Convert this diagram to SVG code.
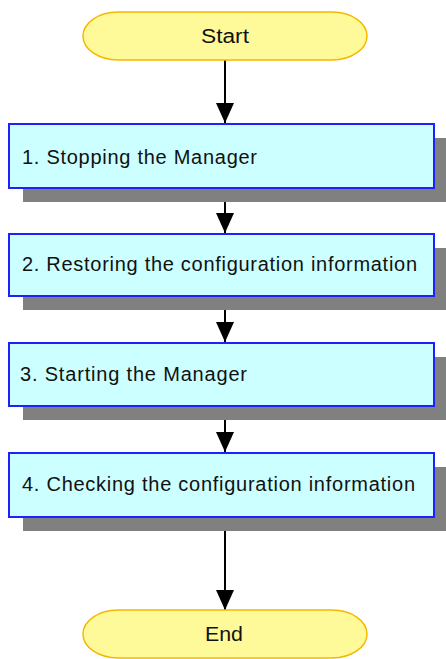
<svg xmlns="http://www.w3.org/2000/svg" width="446" height="659" viewBox="0 0 446 659">
<style>
.term{fill:#FFFA99;stroke:#F5B800;stroke-width:1.5}
.box{fill:#CCFFFF;stroke:#2020FF;stroke-width:2}
.shadow{fill:#808080}
.t{font-family:"Liberation Sans",Arial,sans-serif;font-size:20px;fill:#111}
.line{stroke:#000;stroke-width:2;fill:none}
</style>
<defs>
<marker id="arr" markerWidth="20" markerHeight="18" refX="20" refY="9" orient="auto" markerUnits="userSpaceOnUse">
<path d="M0,0 L20,9 L0,18 Z" fill="#000"/>
</marker>
</defs>
<g id="connectors">
<line class="line" x1="225" y1="60" x2="225" y2="123" marker-end="url(#arr)"/>
<line class="line" x1="225" y1="188" x2="225" y2="233" marker-end="url(#arr)"/>
<line class="line" x1="225" y1="296" x2="225" y2="342" marker-end="url(#arr)"/>
<line class="line" x1="225" y1="406" x2="225" y2="452" marker-end="url(#arr)"/>
<line class="line" x1="225" y1="517" x2="225" y2="610" marker-end="url(#arr)"/>
</g>
<g id="start">
<path class="term" d="M118,12 L332,12 A35,24 0 0 1 332,60 L118,60 A35,24 0 0 1 118,12 Z"/>
<text class="t" x="201" y="43" textLength="48" lengthAdjust="spacingAndGlyphs">Start</text>
</g>
<g id="step1">
<rect class="shadow" x="23" y="138" width="425" height="64"/>
<rect class="box" x="9" y="124" width="425" height="64"/>
<text class="t" x="22" y="164" textLength="235">1. Stopping the Manager</text>
</g>
<g id="step2">
<rect class="shadow" x="23" y="248" width="425" height="62"/>
<rect class="box" x="9" y="234" width="425" height="62"/>
<text class="t" x="22" y="271" textLength="395">2. Restoring the configuration information</text>
</g>
<g id="step3">
<rect class="shadow" x="23" y="357" width="425" height="63"/>
<rect class="box" x="9" y="343" width="425" height="63"/>
<text class="t" x="20" y="381" textLength="227">3. Starting the Manager</text>
</g>
<g id="step4">
<rect class="shadow" x="23" y="467" width="425" height="64"/>
<rect class="box" x="9" y="453" width="425" height="64"/>
<text class="t" x="22" y="491" textLength="393">4. Checking the configuration information</text>
</g>
<g id="end">
<path class="term" d="M118,610 L332,610 A35,24 0 0 1 332,658 L118,658 A35,24 0 0 1 118,610 Z"/>
<text class="t" x="205" y="641" textLength="38" lengthAdjust="spacingAndGlyphs">End</text>
</g>
</svg>
